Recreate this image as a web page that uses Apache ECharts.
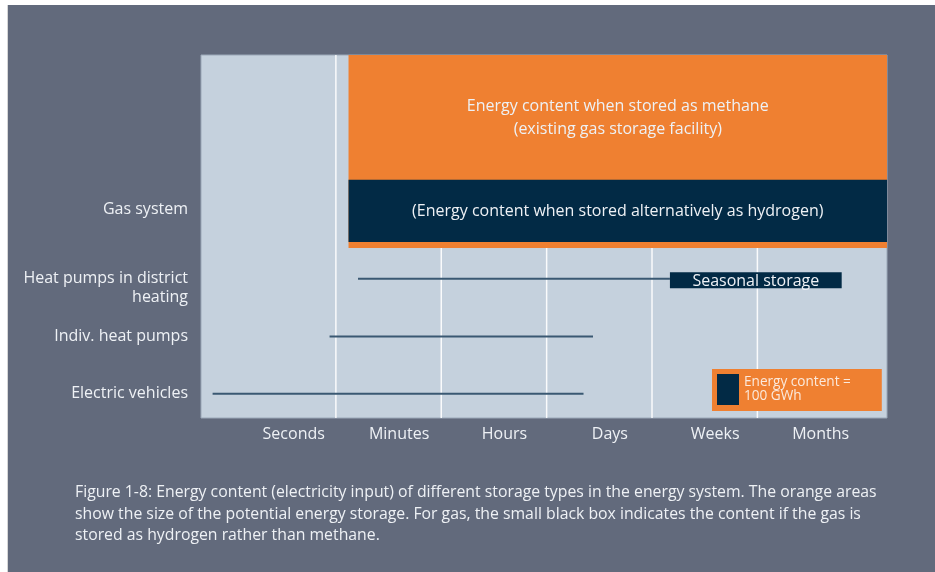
<!DOCTYPE html>
<html>
<head>
<meta charset="utf-8">
<script src="https://cdn.jsdelivr.net/npm/echarts@6/dist/echarts.min.js"></script>
<style>
  html, body { margin: 0; padding: 0; background: #ffffff; }
  #wrap { position: absolute; left: 7px; top: 5px; width: 928px; height: 567px; border-left: 1px solid #d6d6d6; }
  #chart { width: 927px; height: 567px; }
</style>
</head>
<body>
<div id="wrap"><div id="chart"></div></div>
<script>
// time scales along x (one unit per scale, label at the centre)
const timeScales = ['Seconds', 'Minutes', 'Hours', 'Days', 'Weeks', 'Months'];
const scaleBreaks = [0.4, 1.4, 2.4, 3.4, 4.4];

// storage types (rows), position on the y scale
const rowNames = ['Gas system', 'Heat pumps in district\nheating', 'Indiv. heat pumps', 'Electric vehicles'];
const rowPos = [2.8, 4.07, 5.12, 6.16];

// discharge time ranges (thin lines)
const rangeRow = [1, 2, 3];
const rangeStart = [0.61, 0.34, -0.77];
const rangeEnd = [3.57, 2.84, 2.75];

// energy content blocks
const blockNames = [
  'Energy content when stored as methane\n(existing gas storage facility)',
  '(Energy content when stored alternatively as hydrogen)',
  'Seasonal storage'
];
const blockKind = ['methane', 'hydrogen', 'hydrogen'];
const blockX0 = [0.52, 0.52, 3.57];
const blockX1 = [5.63, 5.63, 5.2];
const blockY0 = [0, 2.27, 3.95];
const blockY1 = [3.51, 3.4, 4.24];

const X_MIN = -0.88, X_MAX = 5.63, Y_MIN = 0, Y_MAX = 6.6;

const ORANGE = '#ef8031';
const NAVY = '#022a45';
const FONT = '"Open Sans", "Noto Sans", sans-serif';
const TEXT = '#eef1f5';

// label of a block sits in the middle of its visible part
function labelY(i) {
  let top = blockY1[i];
  blockY0.forEach((y0, j) => {
    if (j > i && y0 > blockY0[i] && y0 < top && blockX0[j] <= blockX0[i]) top = y0;
  });
  return (blockY0[i] + top) / 2;
}

function blockData(kind) {
  const out = [];
  blockKind.forEach((k, i) => {
    if (k === kind) out.push([blockX0[i], blockX1[i], blockY0[i], blockY1[i], labelY(i), i]);
  });
  return out;
}

function renderBlock(params, api) {
  const p0 = api.coord([api.value(0), api.value(2)]);
  const p1 = api.coord([api.value(1), api.value(3)]);
  const pc = api.coord([(api.value(0) + api.value(1)) / 2, api.value(4)]);
  const idx = api.value(5);
  return {
    type: 'group',
    children: [
      {
        type: 'rect',
        shape: {
          x: Math.min(p0[0], p1[0]),
          y: Math.min(p0[1], p1[1]),
          width: Math.abs(p1[0] - p0[0]),
          height: Math.abs(p1[1] - p0[1])
        },
        style: { fill: api.visual('color') }
      },
      {
        type: 'text',
        x: pc[0],
        y: pc[1] + 1,
        style: {
          text: blockNames[idx],
          align: 'center',
          verticalAlign: 'middle',
          fill: TEXT,
          font: '16px ' + FONT,
          lineHeight: 23
        }
      }
    ]
  };
}

const rowLabelPos = rowPos.map((p, i) => p + (rowNames[i].split('\n').length - 1) * 0.17);

const chart = echarts.init(document.getElementById('chart'));

chart.setOption({
  backgroundColor: '#626a7c',
  animation: false,
  title: {
    left: 62,
    top: 472,
    text: 'Figure 1-8: Energy content (electricity input) of different storage types in the energy system. The orange areas\n' +
      'show the size of the potential energy storage. For gas, the small black box indicates the content if the gas is\n' +
      'stored as hydrogen rather than methane.',
    textStyle: { color: TEXT, fontSize: 15.8, fontWeight: 'normal', lineHeight: 21.5, fontFamily: FONT }
  },
  legend: {
    left: 704,
    top: 364,
    data: ['Energy content = 100 GWh'],
    formatter: (name) => name.replace(' = ', ' =\n'),
    icon: 'rect',
    itemWidth: 22,
    itemHeight: 31,
    backgroundColor: ORANGE,
    padding: [5, 31, 6, 5],
    selectedMode: false,
    textStyle: { color: '#fbe9dc', fontSize: 13.6, lineHeight: 14, fontFamily: FONT }
  },
  grid: {
    left: 193,
    top: 50,
    width: 686,
    height: 363,
    show: true,
    backgroundColor: '#c5d1dd',
    borderColor: '#9ba8b8',
    borderWidth: 1
  },
  xAxis: {
    type: 'value',
    min: X_MIN,
    max: X_MAX,
    axisLine: { show: false },
    axisTick: { show: false },
    splitLine: { show: false },
    axisLabel: {
      customValues: timeScales.map((_, i) => i),
      formatter: (v) => timeScales[Math.round(v)],
      margin: 8,
      color: TEXT,
      fontSize: 16,
      fontFamily: FONT
    }
  },
  yAxis: {
    type: 'value',
    inverse: true,
    min: Y_MIN,
    max: Y_MAX,
    axisLine: { show: false },
    axisTick: { show: false },
    splitLine: { show: false },
    axisLabel: {
      customValues: rowLabelPos,
      formatter: (v) => rowNames[rowLabelPos.findIndex((p) => Math.abs(p - v) < 1e-6)],
      margin: 13,
      color: TEXT,
      fontSize: 16,
      lineHeight: 19,
      fontFamily: FONT
    }
  },
  series: [
    {
      // boundaries between time scales
      type: 'custom',
      name: 'grid',
      z: 1,
      silent: true,
      data: scaleBreaks.map((v) => [v]),
      encode: { x: 0 },
      renderItem: (params, api) => {
        const a = api.coord([api.value(0), Y_MIN]);
        const b = api.coord([api.value(0), Y_MAX]);
        return {
          type: 'line',
          shape: { x1: a[0], y1: a[1], x2: b[0], y2: b[1] },
          style: { stroke: 'rgba(255,255,255,0.9)', lineWidth: 1.5 }
        };
      }
    },
    {
      type: 'custom',
      name: 'methane',
      z: 2,
      silent: true,
      itemStyle: { color: ORANGE },
      data: blockData('methane'),
      encode: { x: [0, 1], y: [2, 3] },
      renderItem: renderBlock
    },
    {
      type: 'custom',
      name: 'ranges',
      z: 3,
      silent: true,
      data: rangeRow.map((r, i) => [rangeStart[i], rangeEnd[i], rowPos[r]]),
      encode: { x: [0, 1], y: 2 },
      renderItem: (params, api) => {
        const a = api.coord([api.value(0), api.value(2)]);
        const b = api.coord([api.value(1), api.value(2)]);
        return {
          type: 'line',
          shape: { x1: a[0], y1: a[1], x2: b[0], y2: b[1] },
          style: { stroke: '#3a5872', lineWidth: 2 }
        };
      }
    },
    {
      type: 'custom',
      name: 'Energy content = 100 GWh',
      z: 4,
      silent: true,
      itemStyle: { color: NAVY },
      data: blockData('hydrogen'),
      encode: { x: [0, 1], y: [2, 3] },
      renderItem: renderBlock
    }
  ]
});
</script>
</body>
</html>
